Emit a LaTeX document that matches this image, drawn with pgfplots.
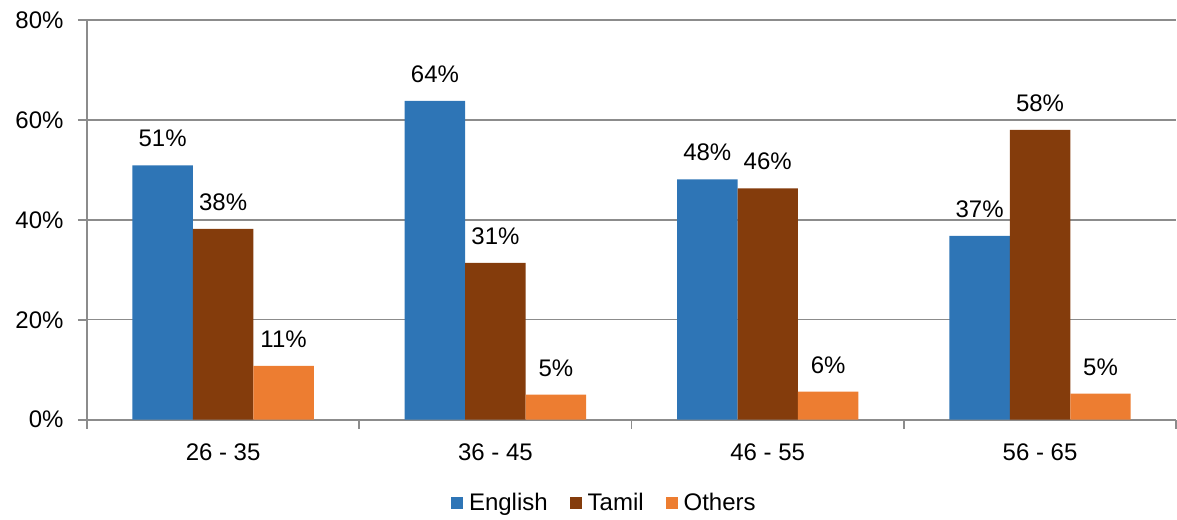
\documentclass[border=0pt]{standalone}
\usepackage{pgfplots}
\pgfplotsset{compat=1.18}
\usepackage{fontspec}
\setmainfont{Liberation Sans}
\usetikzlibrary{calc}

\definecolor{engblue}{RGB}{46,117,182}
\definecolor{tambrown}{RGB}{132,60,12}
\definecolor{othorange}{RGB}{237,125,49}
\definecolor{axisgray}{RGB}{140,140,140}

\begin{document}
\begin{tikzpicture}
\begin{axis}[
    width=1090pt,
    height=400pt,
    scale only axis,
    ybar=0pt,
    bar width=60.5pt,
    ymin=0, ymax=80,
    xmin=-0.5, xmax=3.5,
    axis x line*=bottom,
    axis y line*=left,
    axis line style={axisgray, line width=1.6pt},
    xtick={0,1,2,3},
    xticklabels={26 - 35, 36 - 45, 46 - 55, 56 - 65},
    major x tick style={draw=none},
    minor xtick={-0.5,0.5,1.5,2.5,3.5},
    minor x tick style={axisgray, line width=1.6pt},
    minor tick length=9pt,
    ytick={0,20,40,60,80},
    yticklabel={\pgfmathprintnumber{\tick}\%},
    major y tick style={axisgray, line width=1.6pt},
    major tick length=9pt,
    tick align=outside,
    ymajorgrids,
    grid style={axisgray, line width=1.4pt},
    /pgf/number format/assume math mode=true,
    tick label style={font=\fontsize{24}{28}\selectfont, text=black},
    yticklabel style={xshift=-11pt},
    xticklabel style={yshift=-12pt},
    nodes near coords={\pgfmathprintnumber[fixed,precision=0]{\pgfplotspointmeta}\%},
    nodes near coords style={font=\fontsize{24}{28}\selectfont, anchor=south, inner sep=0pt, yshift=18pt, text=black},
    legend style={at={(0.475,-0.2075)}, anchor=center, draw=none, legend columns=-1,
        font=\fontsize{24}{28}\selectfont, inner sep=0pt,
        /tikz/every odd column/.append style={column sep=4pt},
        /tikz/every even column/.append style={column sep=20pt}},
    legend image code/.code={\fill[#1] (0pt,-6pt) rectangle (12pt,6pt);},
]
\addplot[fill=engblue, draw=none] coordinates {(0,50.9) (1,63.8) (2,48.1) (3,36.8)};
\addplot[fill=tambrown, draw=none] coordinates {(0,38.2) (1,31.4) (2,46.3) (3,58.0)};
\addplot[fill=othorange, draw=none] coordinates {(0,10.8) (1,5.0) (2,5.6) (3,5.2)};
\legend{English, Tamil, Others}
\end{axis}
\path ($(current axis.south west)+(-87pt,-100pt)$) rectangle ($(current axis.north east)+(0pt,20pt)$);
\end{tikzpicture}
\end{document}
